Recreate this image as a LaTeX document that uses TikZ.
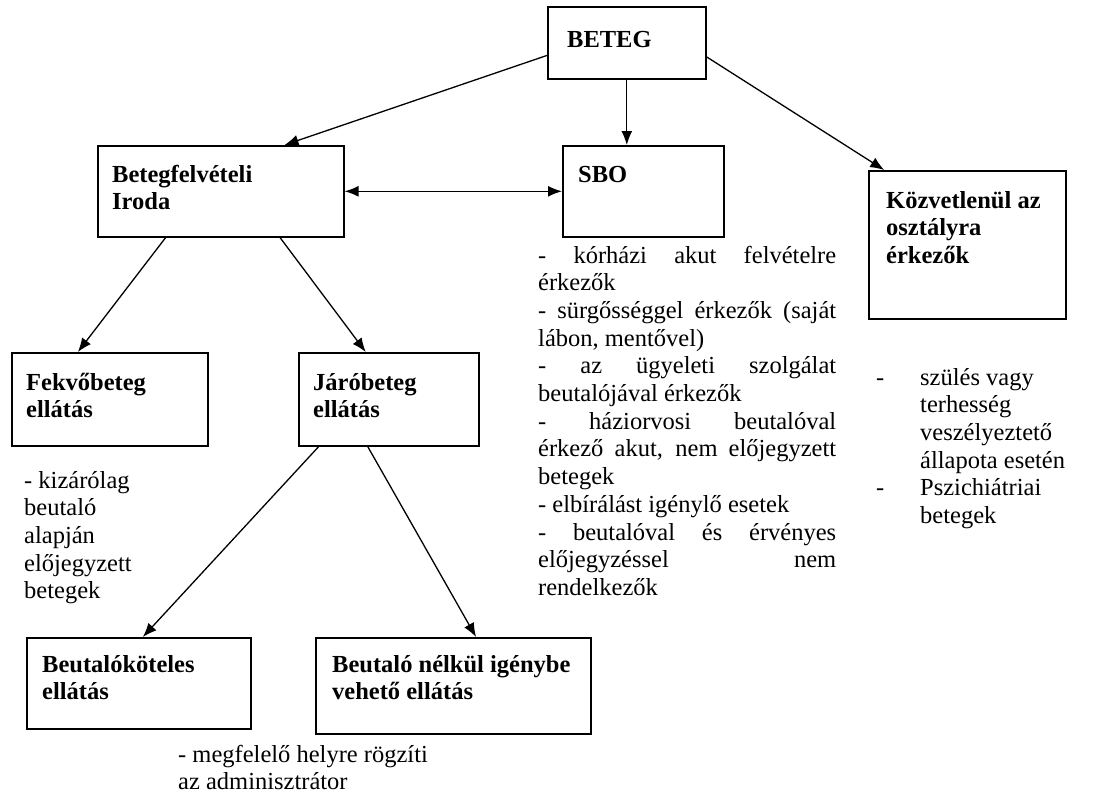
\documentclass[tikz,border=0pt]{standalone}
\usepackage{fontspec}
\setmainfont{Liberation Serif}
\usetikzlibrary{arrows.meta,calc}
\newcommand\mlines[1]{\parbox[t]{400pt}{\raggedright #1}}
\begin{document}
\begin{tikzpicture}[x=1pt,y=-1pt,
  every node/.style={font=\fontsize{24.5}{27.7}\selectfont},
  box/.style={draw, line width=1.6pt, anchor=north west, inner sep=0pt},
  bt/.style={anchor=base west, inner sep=0pt, font=\fontsize{24.5}{27.7}\selectfont\bfseries},
  nt/.style={anchor=base west, inner sep=0pt},
  arr/.style={line width=1.3pt, -{Latex[length=14pt,width=11pt]}},
  darr/.style={line width=1.3pt, {Latex[length=14pt,width=11pt]}-{Latex[length=14pt,width=11pt]}}
]
\useasboundingbox[fill=white] (0,0) rectangle (1096,796);

% boxes
\node[box, minimum width=158, minimum height=72] (beteg) at (547,6) {};
\node[bt] (tbeteg) at (567,47) {BETEG};
\node[box, minimum width=246, minimum height=91] (iroda) at (97,145) {};
\node[bt] (tiroda) at (112,182) {\mlines{Betegfelvételi\\Iroda}};
\node[box, minimum width=161, minimum height=91] (sbo) at (562,145) {};
\node[bt] (tsbo) at (578,182) {SBO};
\node[box, minimum width=197, minimum height=148] (direct) at (868,170) {};
\node[bt] (tdirect) at (886,208) {\mlines{Közvetlenül az\\osztályra\\érkezők}};
\node[box, minimum width=196, minimum height=93] (fekvo) at (11,352) {};
\node[bt] (tfekvo) at (26,390) {\mlines{Fekvőbeteg\\ellátás}};
\node[box, minimum width=180, minimum height=93] (jaro) at (298,352) {};
\node[bt] (tjaro) at (313,390) {\mlines{Járóbeteg\\ellátás}};
\node[box, minimum width=224, minimum height=91] (beutkot) at (26,637) {};
\node[bt] (tbeutkot) at (42,672) {\mlines{Beutalóköteles\\ellátás}};
\node[box, minimum width=275, minimum height=96] (beutnk) at (315,637) {};
\node[bt] (tbeutnk) at (332,672) {\mlines{Beutaló nélkül igénybe\\vehető ellátás}};

% connectors
\draw[arr] (beteg.189) -- (iroda.36);
\draw[arr] (beteg.south) -- (beteg.south |- sbo.north);
\draw[arr] (beteg.350) -- (direct.138);
\draw[darr] (iroda.east) -- (sbo.west);
\draw[arr] (iroda.220) -- (fekvo.124);
\draw[arr] (iroda.322) -- (jaro.116);
\draw[arr] (jaro.214) -- (beutkot.85);
\draw[arr] (jaro.246) -- (beutnk.65);

% notes
\node[nt] (nfekvo) at (24,488) {\mlines{- kizárólag\\beutaló\\alapján\\előjegyzett\\betegek}};
\node[nt] (nadmin) at (178,762) {\mlines{- megfelelő helyre rögzíti\\az adminisztrátor}};
\node[nt] (nsbo) at (538,263) {\parbox[t]{298pt}{\setlength{\parindent}{0pt}\hyphenpenalty=10000 \exhyphenpenalty=10000 \tolerance=10000
- kórházi akut felvételre\linebreak érkezők\par
- sürgősséggel érkezők (saját\linebreak lábon, mentővel)\par
- az ügyeleti szolgálat\linebreak beutalójával érkezők\par
- háziorvosi beutalóval\linebreak érkező akut, nem előjegyzett\linebreak betegek\par
- elbírálást igénylő esetek\par
- beutalóval és érvényes\linebreak előjegyzéssel nem\linebreak rendelkezők\par}};
\node[nt] (dash1) at (876,385) {-};
\node[nt] (ndirect1) at (920,385) {\mlines{szülés vagy\\terhesség\\veszélyeztető\\állapota esetén}};
\node[nt] (dash2) at (876,495.8) {-};
\node[nt] (ndirect2) at (920,495.8) {\mlines{Pszichiátriai\\betegek}};
\end{tikzpicture}
\end{document}
